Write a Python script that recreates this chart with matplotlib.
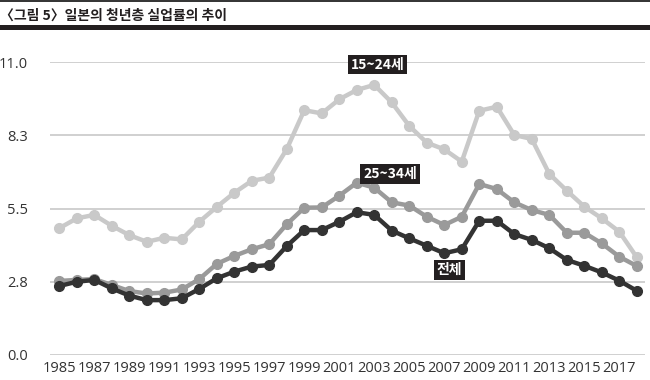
import numpy as np
import matplotlib
matplotlib.use("Agg")
import matplotlib.pyplot as plt

plt.rcParams['font.family'] = ['Open Sans', 'Noto Sans CJK KR', 'DejaVu Sans']

years = list(range(1985, 2019))

# 15~24세
youth = [4.76, 5.13, 5.26, 4.85, 4.50, 4.25, 4.40, 4.34, 5.00, 5.56,
         6.09, 6.54, 6.66, 7.73, 9.19, 9.07, 9.60, 9.95, 10.14, 9.48,
         8.60, 7.97, 7.72, 7.26, 9.17, 9.32, 8.26, 8.11, 6.80, 6.17,
         5.57, 5.13, 4.63, 3.67]
# 25~34세
young_adult = [2.78, 2.82, 2.85, 2.63, 2.40, 2.31, 2.34, 2.46, 2.85, 3.42,
               3.72, 3.97, 4.16, 4.91, 5.53, 5.54, 5.98, 6.47, 6.28, 5.73,
               5.61, 5.19, 4.88, 5.19, 6.42, 6.23, 5.73, 5.44, 5.26, 4.59,
               4.59, 4.19, 3.69, 3.34]
# 전체
total = [2.59, 2.75, 2.82, 2.50, 2.23, 2.06, 2.06, 2.13, 2.48, 2.88,
         3.13, 3.32, 3.38, 4.09, 4.69, 4.69, 5.00, 5.36, 5.26, 4.67,
         4.38, 4.10, 3.82, 3.97, 5.04, 5.04, 4.54, 4.32, 4.01, 3.57,
         3.35, 3.10, 2.79, 2.41]

yticks = [0.0, 2.75, 5.5, 8.25, 11.0]
ytick_labels = ['0.0', '2.8', '5.5', '8.3', '11.0']
xticks = list(range(1985, 2018, 2))

W, H = 650, 380
fig = plt.figure(figsize=(6.5, 3.8), dpi=100)

# title and rules
fig.add_artist(plt.Line2D([0, 1], [1 - 1.3 / H, 1 - 1.3 / H], color='#222222', lw=1.3))
fig.add_artist(plt.Rectangle((0, 1 - 30 / H), 1, 5 / H, color='#231f20', lw=0))
fig.text(0, 1 - 15.5 / H, '〈그림 5〉일본의 청년층 실업률의 추이', fontsize=10,
         fontweight='bold', family=['Noto Sans CJK KR', 'DejaVu Sans'],
         va='center', ha='left', color='#231f20')

ax = fig.add_axes([50 / W, 25 / H, 595 / W, 293 / H])
ax.set_xlim(1984.47, 2018.47)
ax.set_ylim(0, 11)
ax.set_yticks(yticks)
ax.set_yticklabels(ytick_labels)
ax.set_xticks(xticks)
ax.grid(axis='y', color='#c8c8c8', lw=1.2)
ax.set_axisbelow(True)
for s in ax.spines.values():
    s.set_visible(False)
ax.tick_params(length=0, labelsize=10.5, colors='#333333')
ax.tick_params(axis='y', pad=16)
ax.tick_params(axis='x', pad=4)

ax.plot(years, youth, color='#c9c9c9', lw=3.2, marker='o', ms=7, clip_on=False, zorder=3)
ax.plot(years, young_adult, color='#9a9a9a', lw=3.2, marker='o', ms=7, clip_on=False, zorder=4)
ax.plot(years, total, color='#333333', lw=3.2, marker='o', ms=7, clip_on=False, zorder=5)

box = dict(boxstyle='square,pad=0.2', fc='#231f20', ec='none')
lab_font = ['Noto Sans CJK KR', 'DejaVu Sans']
ax.text(2003.2, 10.9, '15~24세', color='white', fontsize=10, fontweight='bold',
        family=lab_font, ha='center', va='center', bbox=box, zorder=6)
ax.text(2003.9, 6.8, '25~34세', color='white', fontsize=10, fontweight='bold',
        family=lab_font, ha='center', va='center', bbox=box, zorder=6)
ax.text(2007.3, 3.2, '전체', color='white', fontsize=10, fontweight='bold',
        family=lab_font, ha='center', va='center', bbox=box, zorder=6)

fig.savefig('out.png', dpi=100)
